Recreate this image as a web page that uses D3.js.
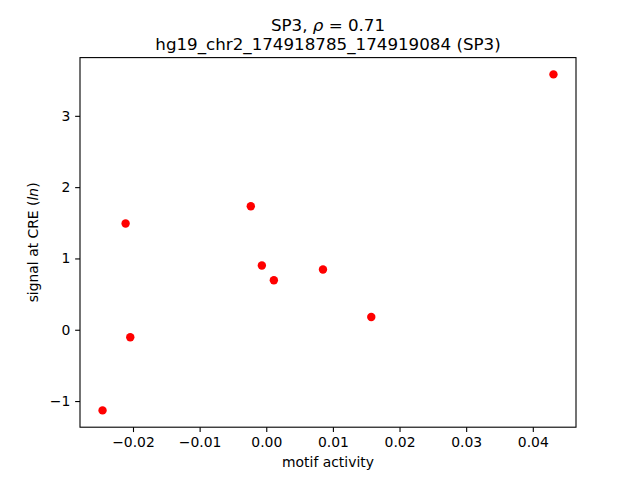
<html>
    <head>
        <meta charset="utf-8" />
        <title>SP3 motif activity scatter</title>
        <script src="https://d3js.org/d3.v7.min.js"></script>
        <style>
            body { margin: 0; padding: 0; overflow: hidden; background: #fff; }
            svg text { font-family: 'DejaVu Sans', sans-serif; fill: #000; }
        </style>
    </head>
    <body>
        <div id="viz">
            <svg></svg>
        </div>
        <script>
            // values
            var motifActivity = [-0.02457, -0.02111, -0.02041, -0.00232, -0.00066, 0.00114, 0.00851, 0.01576, 0.04310];
            var creSignal = [-1.131, 1.490, -0.106, 1.733, 0.900, 0.694, 0.844, 0.179, 3.581];
            var xTickValues = [-0.02, -0.01, 0.00, 0.01, 0.02, 0.03, 0.04];
            var yTickValues = [-1, 0, 1, 2, 3];
            var titleLine2 = "hg19_chr2_174918785_174919084 (SP3)";

            var width = 640, height = 480;
            var margin = ({top: 57.6, right: 64, bottom: 52.8, left: 80});

            var points = motifActivity.map(function(d, i) { return {x: d, y: creSignal[i]}; });

            // matplotlib style 5% padding
            function padded(vals) {
                var ext = d3.extent(vals);
                var pad = (ext[1] - ext[0]) * 0.05;
                return [ext[0] - pad, ext[1] + pad];
            }

            var xScale = d3.scaleLinear().domain(padded(motifActivity)).range([margin.left, width - margin.right]);
            var yScale = d3.scaleLinear().domain(padded(creSignal)).range([height - margin.bottom, margin.top]);

            var minus = function(s) { return s.replace("-", "\u2212"); };

            var svg = d3.select("svg")
                .attr("width", width)
                .attr("height", height);

            svg.append("rect").attr("width", width).attr("height", height).attr("fill", "#fff");

            var xAxis = d3.axisBottom(xScale)
                .tickValues(xTickValues)
                .tickSize(4.86)
                .tickPadding(4.86)
                .tickFormat(function(d) { return minus(d3.format(".2f")(d)); });

            var yAxis = d3.axisLeft(yScale)
                .tickValues(yTickValues)
                .tickSize(4.86)
                .tickPadding(4.86)
                .tickFormat(function(d) { return minus(d3.format("d")(d)); });

            var gx = svg.append("g")
                .attr("id", "xAxisG")
                .attr("transform", "translate(0," + (height - margin.bottom) + ")")
                .call(xAxis);

            var gy = svg.append("g")
                .attr("id", "yAxisG")
                .attr("transform", "translate(" + margin.left + ",0)")
                .call(yAxis);

            [gx, gy].forEach(function(g) {
                g.select(".domain").remove();
                g.selectAll(".tick line").attr("stroke", "#000").attr("stroke-width", 1.1);
                g.selectAll(".tick text").attr("font-size", "13.9px").attr("fill", "#000");
            });

            // frame
            svg.append("rect")
                .attr("x", margin.left)
                .attr("y", margin.top)
                .attr("width", width - margin.left - margin.right)
                .attr("height", height - margin.top - margin.bottom)
                .attr("fill", "none")
                .attr("stroke", "#000")
                .attr("stroke-width", 1.1);

            svg.append("g")
                .selectAll("circle")
                .data(points)
                .enter()
                .append("circle")
                .attr("cx", d => xScale(d.x))
                .attr("cy", d => yScale(d.y))
                .attr("r", 4.2)
                .attr("fill", "#ff0000");

            var cx = (margin.left + width - margin.right) / 2;

            var t1 = svg.append("text")
                .attr("x", cx)
                .attr("y", 31)
                .attr("text-anchor", "middle")
                .attr("font-size", "16.7px");
            t1.append("tspan").text("SP3, ");
            t1.append("tspan").attr("font-style", "italic").text("\u03C1");
            t1.append("tspan").text(" = 0.71");

            svg.append("text")
                .attr("x", cx)
                .attr("y", 50)
                .attr("text-anchor", "middle")
                .attr("font-size", "16.7px")
                .text(titleLine2);

            svg.append("text")
                .attr("x", cx)
                .attr("y", 467)
                .attr("text-anchor", "middle")
                .attr("font-size", "13.9px")
                .text("motif activity");

            var yl = svg.append("text")
                .attr("transform", "translate(38," + ((margin.top + height - margin.bottom) / 2) + ") rotate(-90)")
                .attr("text-anchor", "middle")
                .attr("font-size", "13.9px");
            yl.append("tspan").text("signal at CRE (");
            yl.append("tspan").attr("font-style", "italic").text("ln");
            yl.append("tspan").text(")");
        </script>
    </body>
</html>
